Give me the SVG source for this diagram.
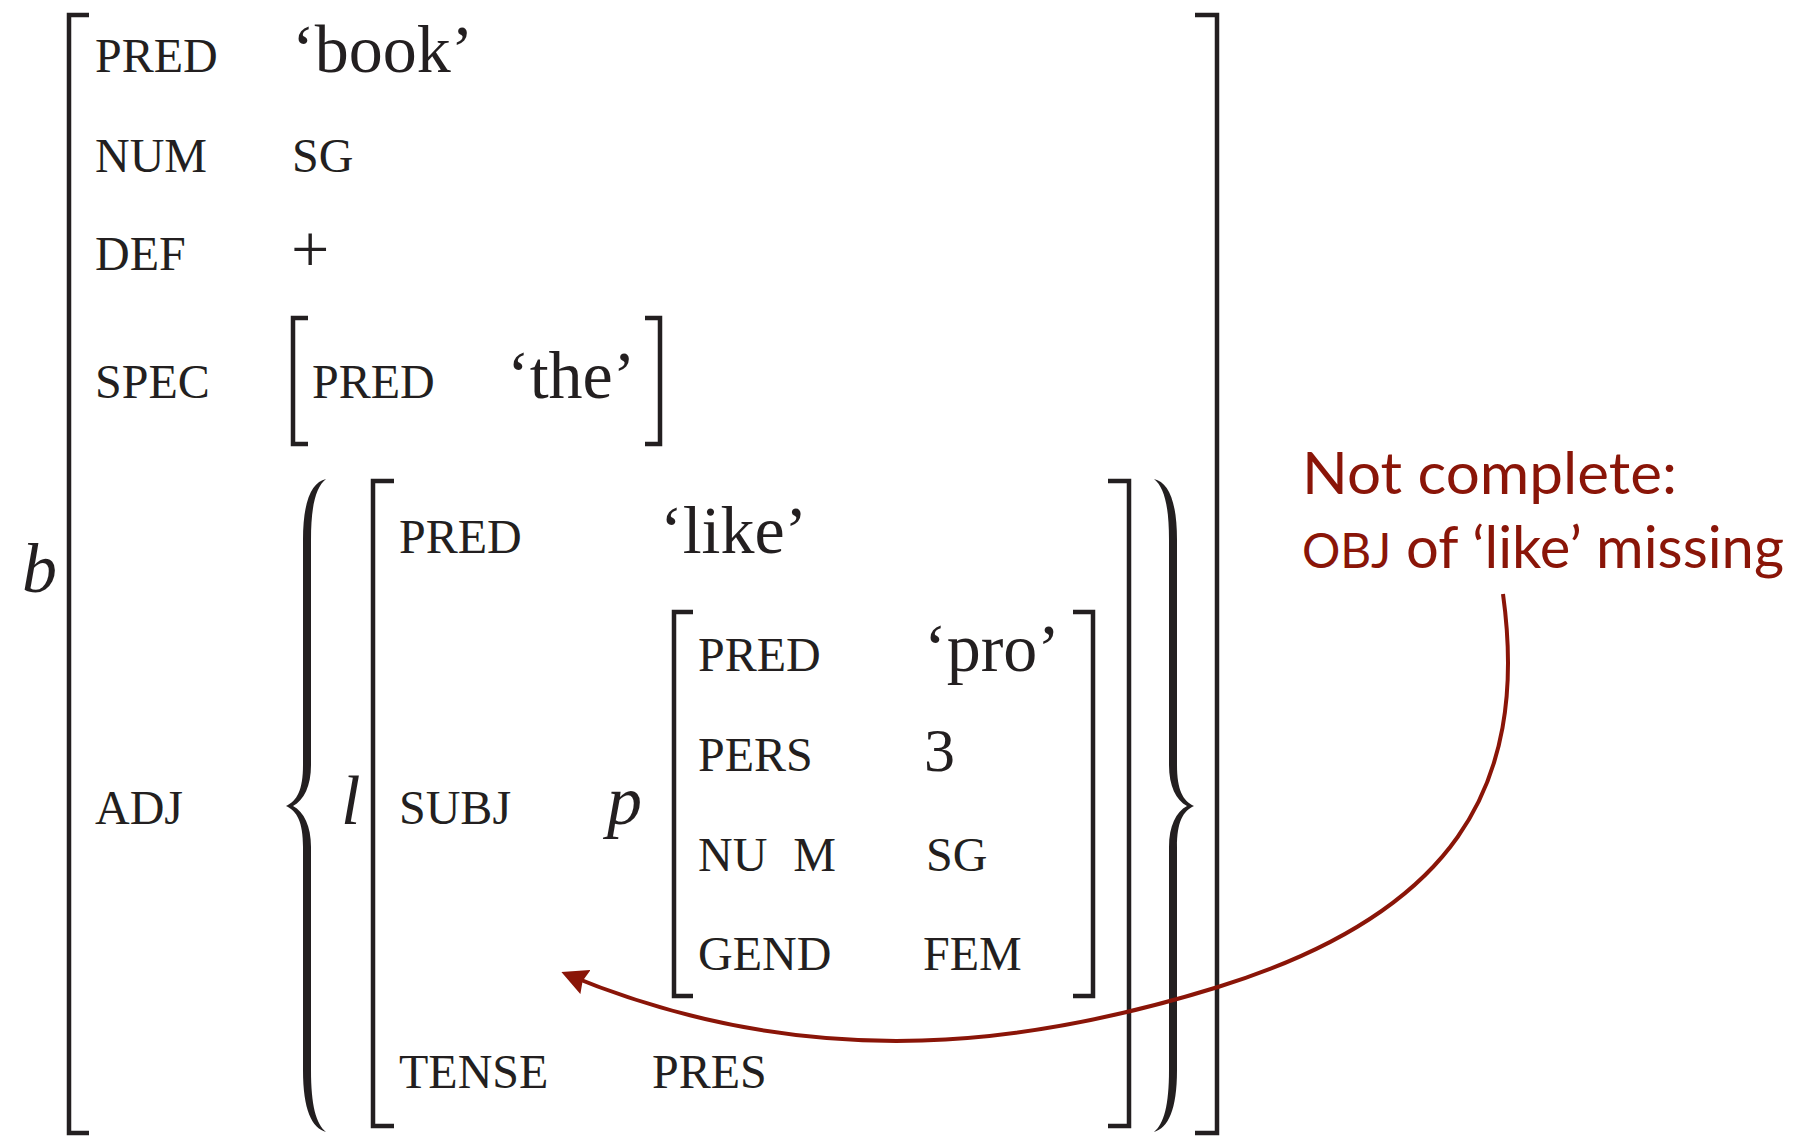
<svg xmlns="http://www.w3.org/2000/svg" width="1812" height="1136" viewBox="0 0 1812 1136">
<defs>
<style>
.lbl{font-family:"Liberation Serif",serif;font-size:48px;fill:#231f20}
.val{font-family:"Liberation Serif",serif;font-size:68px;fill:#231f20}
.var{font-family:"Liberation Serif",serif;font-size:70px;font-style:italic;fill:#231f20}
.br{fill:none;stroke:#231f20;stroke-width:4.5;stroke-linecap:butt;stroke-linejoin:miter}
.brace{fill:#231f20;stroke:none}
.note{font-family:Lato,"Open Sans",sans-serif;font-size:58px;fill:#8a1508}
.conn{fill:none;stroke:#8a1508;stroke-width:4}
</style>
<path id="brace" d="M326,479 C312,482 303,500 303,540 L303,765 C303,790 297,801 286,806 C297,811 303,822 303,847 L303,1070 C303,1110 312,1128 326,1132 C316,1124 311,1105 311,1070 L311,847 C311,826 304,812 293,806 C304,800 311,786 311,765 L311,540 C311,505 316,487 326,479 Z"/>
<marker id="ah" markerUnits="userSpaceOnUse" markerWidth="26" markerHeight="26" viewBox="0 0 26 26" refX="21" refY="13" orient="auto">
<path d="M0,0 L26,13 L0,26 L3,13 Z" fill="#8a1508"/>
</marker>
</defs>

<g id="outer-fs">
<path class="br" d="M89,15 H69 V1133 H89"/>
<path class="br" d="M1195,15 H1217 V1133 H1195"/>
<text class="var" x="22" y="592">b</text>
</g>

<g id="row-pred">
<text class="lbl" x="95" y="72">PRED</text>
<text class="val" x="292" y="72">‘book’</text>
</g>
<g id="row-num">
<text class="lbl" x="95" y="172">NUM</text>
<text class="lbl" x="292" y="172">SG</text>
</g>
<g id="row-def">
<text class="lbl" x="95" y="270">DEF</text>
<text class="val" x="291" y="272">+</text>
</g>
<g id="row-spec">
<text class="lbl" x="95" y="398">SPEC</text>
<path class="br" d="M308,318 H293 V444 H308"/>
<text class="lbl" x="312" y="398">PRED</text>
<text class="val" x="507" y="398">‘the’</text>
<path class="br" d="M645,318 H660 V444 H645"/>
</g>

<g id="row-adj">
<text class="lbl" x="95" y="824">ADJ</text>
<use href="#brace" class="brace"/>
<use href="#brace" class="brace" transform="translate(1480,0) scale(-1,1)"/>
</g>

<g id="fs-l">
<text class="var" x="341" y="824">l</text>
<path class="br" d="M394,481 H373 V1126 H394"/>
<path class="br" d="M1108,481 H1129 V1126 H1108"/>
<text class="lbl" x="399" y="553">PRED</text>
<text class="val" x="660" y="553">‘like’</text>
<text class="lbl" x="399" y="824">SUBJ</text>
<text class="lbl" x="399" y="1088">TENSE</text>
<text class="lbl" x="652" y="1088">PRES</text>
</g>

<g id="fs-p">
<text class="var" x="607" y="824">p</text>
<path class="br" d="M693,612 H674 V996 H693"/>
<path class="br" d="M1073,612 H1093 V996 H1073"/>
<text class="lbl" x="698" y="671">PRED</text>
<text class="val" x="924" y="671">‘pro’</text>
<text class="lbl" x="698" y="771">PERS</text>
<text class="val" x="924" y="771" style="font-size:62px">3</text>
<text class="lbl" x="698" y="871" style="word-spacing:14px">NU M</text>
<text class="lbl" x="926" y="871">SG</text>
<text class="lbl" x="923" y="970">FEM</text>
<text class="lbl" x="698" y="970">GEND</text>
</g>

<g id="note">
<text class="note" x="1302" y="494" textLength="375" lengthAdjust="spacingAndGlyphs">Not complete:</text>
<text class="note" x="1302" y="568" textLength="482" lengthAdjust="spacingAndGlyphs"><tspan style="font-size:48px">OBJ</tspan> of ‘like’ missing</text>
</g>

<g id="connectors">
<path class="conn" marker-end="url(#ah)" d="M1503,594 C1530,790 1450,915 1218,987 C1044,1041 820,1080 566,974"/>
</g>
</svg>
